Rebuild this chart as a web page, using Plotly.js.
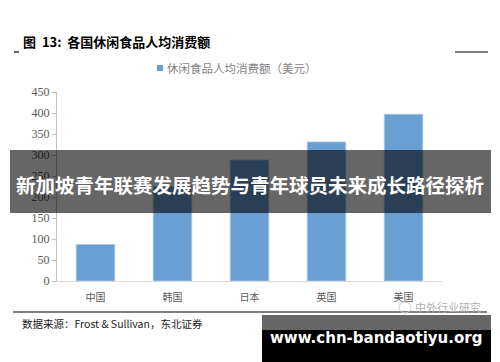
<!DOCTYPE html>
<html>
<head>
<meta charset="utf-8">
<script src="https://cdn.plot.ly/plotly-3.0.1.min.js"></script>
<style>html,body{margin:0;padding:0;background:#fff;}#chart{width:500px;height:362px;}</style>
</head>
<body>
<div id="chart"></div>
<script>
// Data
const categories = ["中国", "韩国", "日本", "英国", "美国"];
const spending = [87, 225, 288, 331, 397];
const seriesName = "休闲食品人均消费额（美元）";
const yTicks = [0, 50, 100, 150, 200, 250, 300, 350, 400, 450];

// Texts
const titleText = "图  13:  各国休闲食品人均消费额";
const sourceText = "数据来源：Frost & Sullivan，东北证券";
const bannerText = "新加坡青年联赛发展趋势与青年球员未来成长路径探析";
const siteText = "www.chn-bandaotiyu.org";
const watermarkText = "中外行业研究";

const barColor = "#6a9fd4";

// pixel -> paper helpers (plot area: x 57..442, y 92..281)
const L = 57, R = 58, T = 92, B = 81, W = 500, H = 362;
const pw = W - L - R, ph = H - T - B;
const px = x => (x - L) / pw;
const py = y => (H - B - y) / ph;

const trace = {
  type: "bar",
  x: categories,
  y: spending,
  name: seriesName,
  marker: {color: barColor, line: {color: "#a8c6e6", width: 0.8}},
  showlegend: false
};

const layout = {
  width: W, height: H,
  margin: {l: L, r: R, t: T, b: B, pad: 0},
  paper_bgcolor: "#ffffff",
  plot_bgcolor: "#ffffff",
  bargap: 0.5,
  showlegend: false,
  xaxis: {
    type: "category",
    showline: true, linecolor: "#d9d9d9", linewidth: 1,
    ticks: "", showgrid: false, zeroline: false,
    ticklabelstandoff: 7,
    tickfont: {family: "Noto Sans CJK SC", size: 10, color: "#595959"}
  },
  yaxis: {
    range: [0, 450], tickvals: yTicks, ticktext: yTicks.map(String),
    showline: true, linecolor: "#bfbfbf", linewidth: 1,
    ticks: "outside", ticklen: 4, tickcolor: "#bfbfbf",
    showgrid: false, zeroline: false,
    tickfont: {family: "Liberation Serif, Times New Roman, serif", size: 12, color: "#595959"}
  },
  shapes: [
    {type: "line", xref: "paper", yref: "paper", x0: px(14), x1: px(19), y0: py(52), y1: py(52), line: {color: "#000", width: 1.2}},
    {type: "line", xref: "paper", yref: "paper", x0: px(455), x1: px(488), y0: py(52), y1: py(52), line: {color: "#000", width: 1.2}},
    {type: "rect", xref: "paper", yref: "paper", x0: px(157), x1: px(163), y0: py(65), y1: py(71), line: {width: 0}, fillcolor: barColor},
    {type: "line", xref: "paper", yref: "paper", x0: px(13), x1: px(487), y0: py(312), y1: py(312), line: {color: "#000", width: 1.2}},
    {type: "circle", xref: "paper", yref: "paper", x0: px(399), x1: px(411), y0: py(302), y1: py(313), line: {color: "#c8c8c8", width: 1}, fillcolor: "rgba(255,255,255,0)"},
    {type: "rect", xref: "paper", yref: "paper", x0: px(10), x1: px(491), y0: py(150), y1: py(213), line: {width: 0}, fillcolor: "rgba(0,0,0,0.6)", layer: "above"},
    {type: "rect", xref: "paper", yref: "paper", x0: px(262), x1: px(491), y0: py(315), y1: py(330), line: {width: 0}, fillcolor: "#666666", layer: "above"},
    {type: "rect", xref: "paper", yref: "paper", x0: px(262), x1: px(491), y0: py(330), y1: py(362), line: {width: 0}, fillcolor: "#000000", layer: "above"}
  ],
  annotations: [
    {xref: "paper", yref: "paper", x: px(21), y: py(41), xanchor: "left", yanchor: "middle", showarrow: false,
     text: "<b>" + titleText + "</b>", font: {family: "Noto Sans CJK SC", size: 13, color: "#000"}},
    {xref: "paper", yref: "paper", x: px(165), y: py(68), xanchor: "left", yanchor: "middle", showarrow: false,
     text: seriesName, font: {family: "Noto Sans CJK SC", size: 11.5, color: "#7f7f7f"}},
    {xref: "paper", yref: "paper", x: px(20), y: py(323), xanchor: "left", yanchor: "middle", showarrow: false,
     text: sourceText, font: {family: "Noto Sans CJK SC", size: 10.5, color: "#222"}},
    {xref: "paper", yref: "paper", x: px(413), y: py(307), xanchor: "left", yanchor: "middle", showarrow: false,
     text: watermarkText, font: {family: "Noto Sans CJK SC", size: 11, color: "#b0b0b0"}},
    {xref: "paper", yref: "paper", x: px(250), y: py(184), xanchor: "center", yanchor: "middle", showarrow: false,
     text: "<b>" + bannerText + "</b>", font: {family: "Noto Sans CJK SC", size: 19.5, color: "#ffffff"}},
    {xref: "paper", yref: "paper", x: px(376), y: py(338), xanchor: "center", yanchor: "middle", showarrow: false,
     text: "<b>" + siteText + "</b>", font: {family: "DejaVu Sans", size: 15, color: "#ffffff"}}
  ]
};

Plotly.newPlot("chart", [trace], layout, {staticPlot: true, displayModeBar: false});
</script>
</body>
</html>
